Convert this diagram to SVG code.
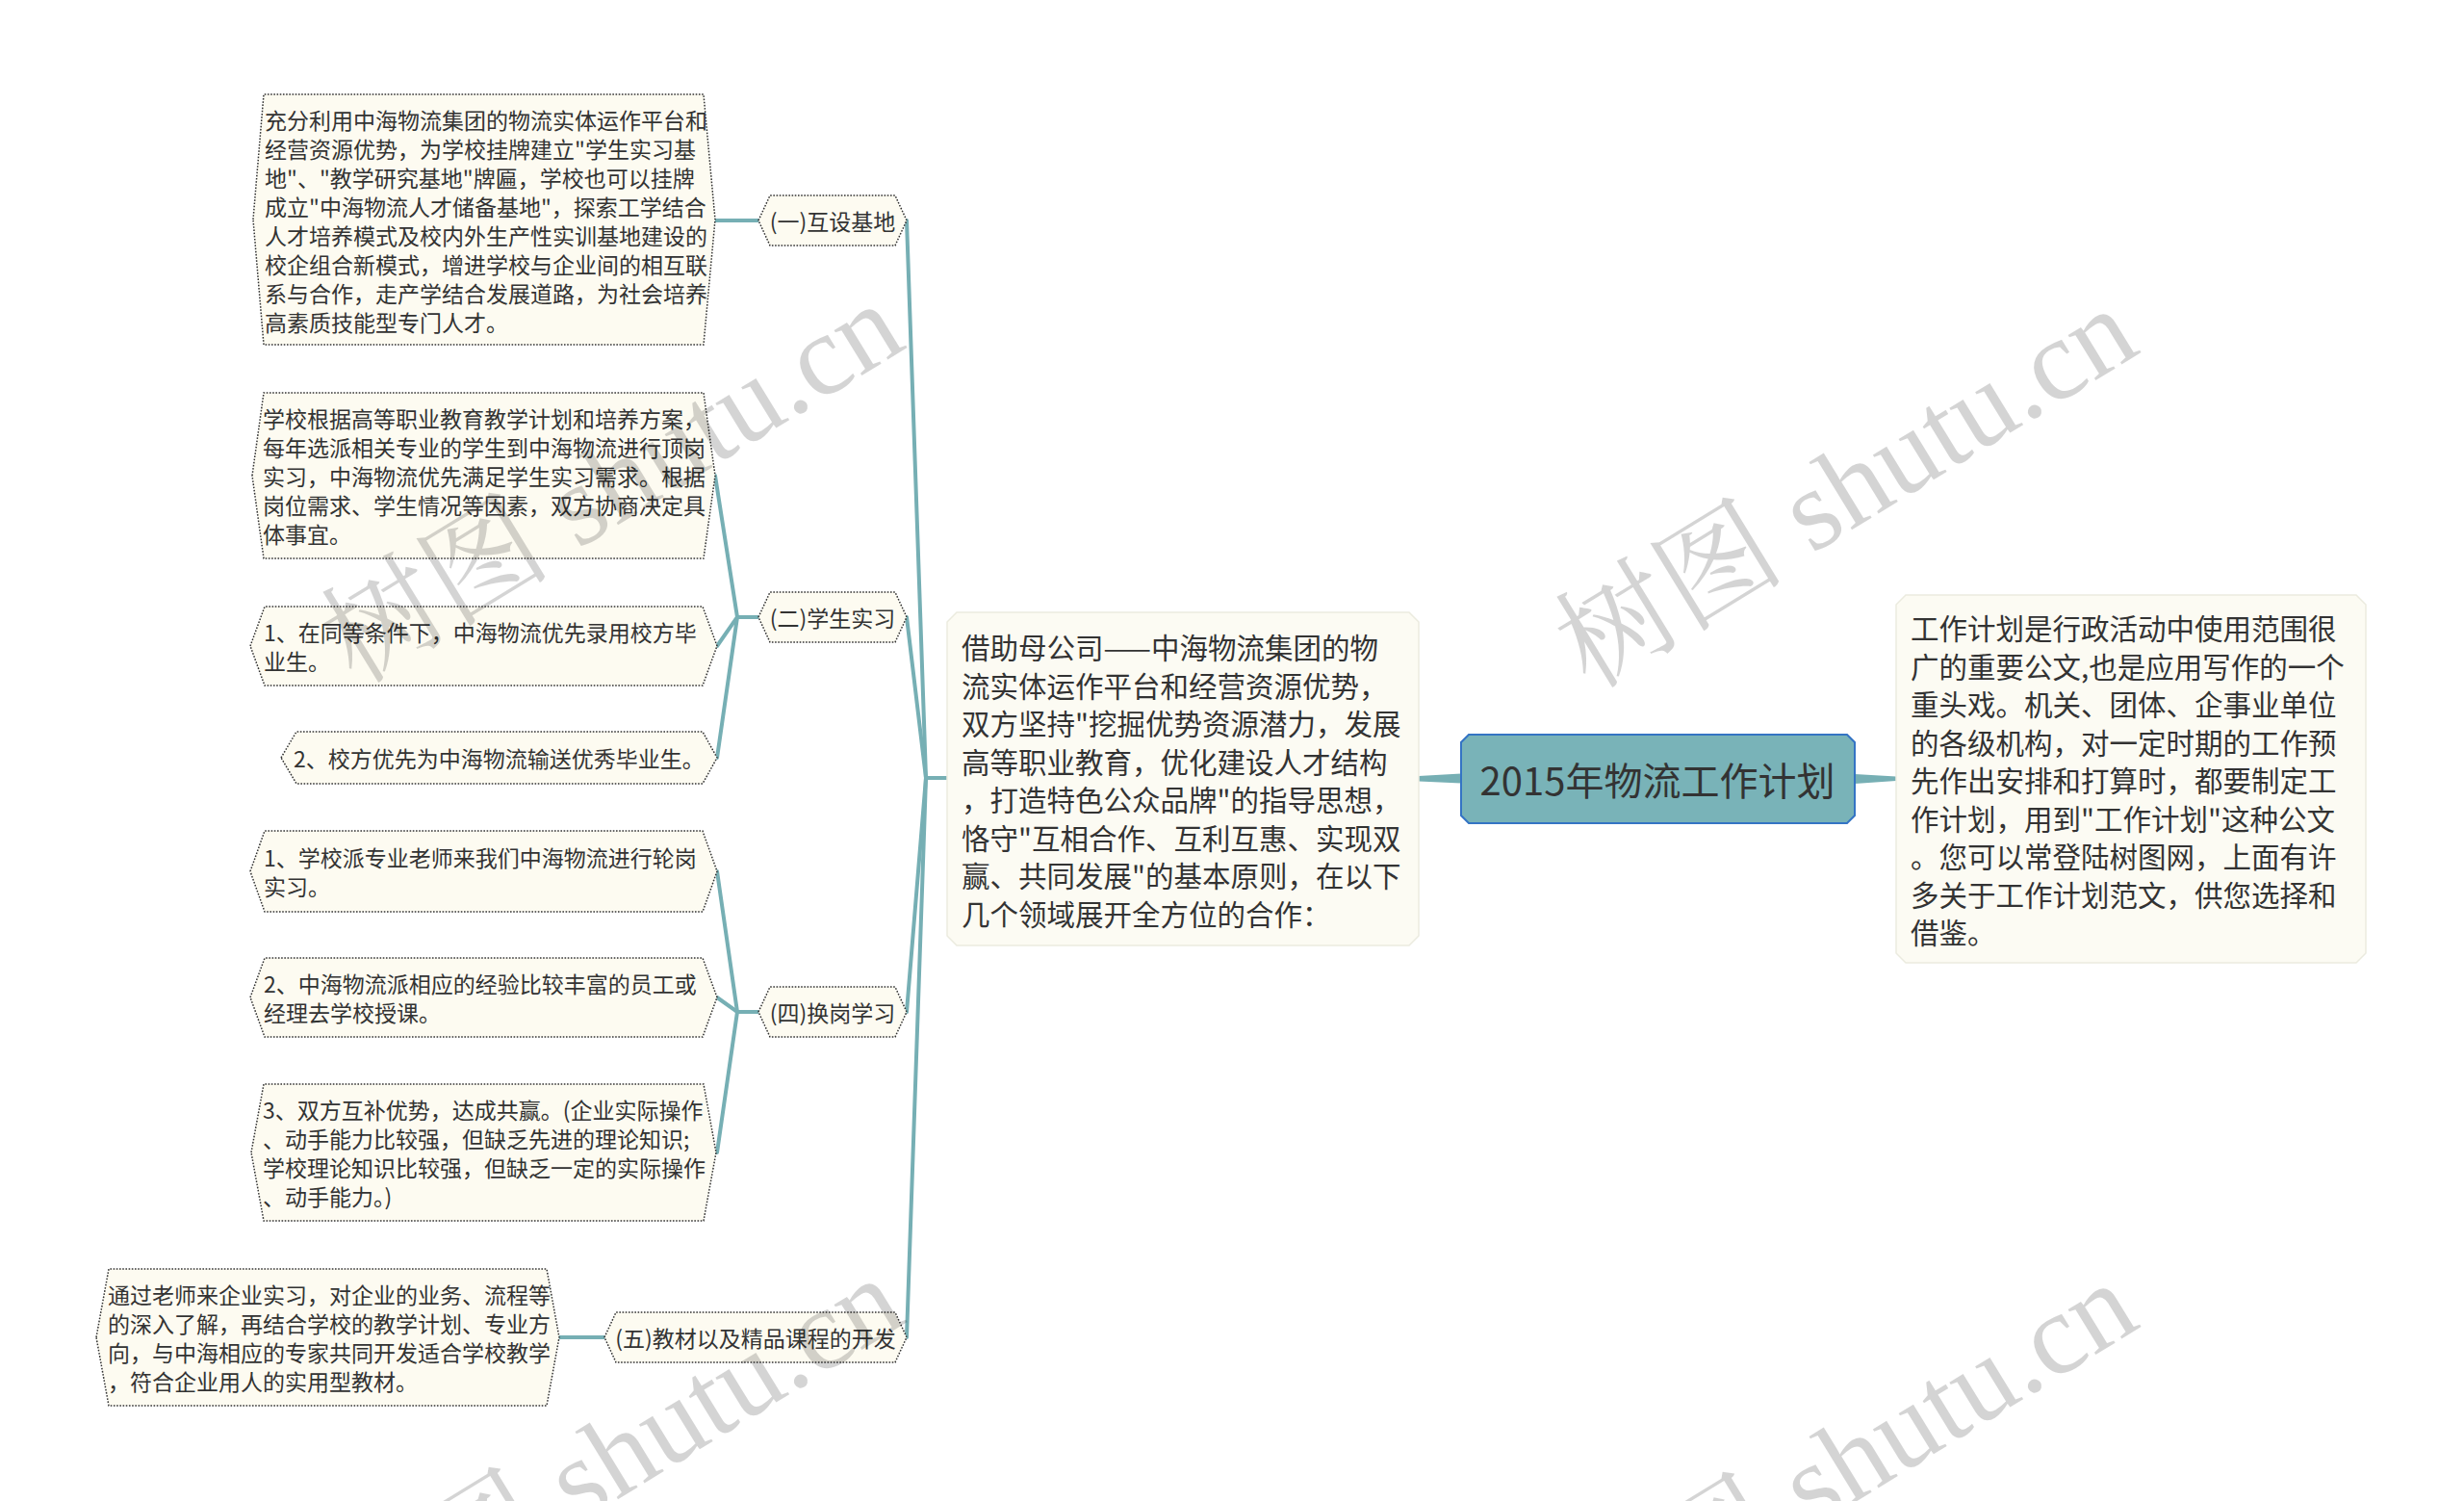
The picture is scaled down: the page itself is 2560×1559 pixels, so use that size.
<svg xmlns="http://www.w3.org/2000/svg" width="2560" height="1559" viewBox="0 0 2560 1559">
<style>
.bg{fill:#ffffff}
.hex{fill:#fdfbf1;stroke:#333;stroke-width:1.5;stroke-dasharray:1.6 1.6}
.box{fill:#fcfbf3;stroke:#ebebdf;stroke-width:1.5}
.root{fill:#79b3b8;stroke:#3474c4;stroke-width:2}
.t{font-family:"Noto Sans CJK SC","Noto Sans",sans-serif;fill:#333;dominant-baseline:central}
.s{font-size:23px}
.m{font-size:29.5px}
.c{text-anchor:middle}
.conn line,.conn polyline{stroke:#76afb4;stroke-width:4;fill:none;stroke-linecap:round}
.taper{fill:#76afb4}
.wm{font-family:"Liberation Serif","Noto Serif CJK SC","Noto Sans CJK SC",serif;font-size:120px;fill:#000;fill-opacity:0.17}
</style>
<rect class="bg" x="0" y="0" width="2560" height="1559"/>

<g id="connectors" class="conn">
  <polygon class="taper" points="1474,806 1518,803.5 1518,813.5 1474,811.5"/>
  <polygon class="taper" points="1927,804 1970,806.5 1970,811 1927,814"/>
  <line x1="984" y1="808" x2="962" y2="808"/>
  <line x1="962" y1="808" x2="942" y2="229"/>
  <line x1="962" y1="808" x2="942" y2="641"/>
  <line x1="962" y1="808" x2="942" y2="1051"/>
  <line x1="962" y1="808" x2="942" y2="1389"/>
  <line x1="788" y1="229" x2="743" y2="229"/>
  <line x1="788" y1="641" x2="766" y2="641"/>
  <line x1="766" y1="641" x2="743" y2="494"/>
  <line x1="766" y1="641" x2="745" y2="671"/>
  <line x1="766" y1="641" x2="745" y2="787"/>
  <line x1="788" y1="1051" x2="766" y2="1051"/>
  <line x1="766" y1="1051" x2="745" y2="905"/>
  <line x1="766" y1="1051" x2="745" y2="1036"/>
  <line x1="766" y1="1051" x2="745" y2="1197"/>
  <line x1="628" y1="1389" x2="581" y2="1389"/>
</g>

<g id="root">
  <polygon class="root" points="1526,763 1919,763 1927,771 1927,847 1919,855 1526,855 1518,847 1518,771"/>
  <text class="t c" x="1722" y="809" style="font-size:40px">2015年物流工作计划</text>
</g>

<g id="intro">
  <polygon class="box" points="994,636 1464,636 1474,646 1474,972 1464,982 994,982 984,972 984,646"/>
  <text class="t m" x="999">
    <tspan x="999" y="671">借助母公司——中海物流集团的物</tspan>
    <tspan x="999" y="710.5">流实体运作平台和经营资源优势，</tspan>
    <tspan x="999" y="750">双方坚持"挖掘优势资源潜力，发展</tspan>
    <tspan x="999" y="789.5">高等职业教育，优化建设人才结构</tspan>
    <tspan x="999" y="829">，打造特色公众品牌"的指导思想，</tspan>
    <tspan x="999" y="868.5">恪守"互相合作、互利互惠、实现双</tspan>
    <tspan x="999" y="908">赢、共同发展"的基本原则，在以下</tspan>
    <tspan x="999" y="947.5">几个领域展开全方位的合作：</tspan>
  </text>
</g>

<g id="summary">
  <polygon class="box" points="1980,618 2448,618 2458,628 2458,990 2448,1000 1980,1000 1970,990 1970,628"/>
  <text class="t m">
    <tspan x="1985" y="651">工作计划是行政活动中使用范围很</tspan>
    <tspan x="1985" y="690.5">广的重要公文,也是应用写作的一个</tspan>
    <tspan x="1985" y="730">重头戏。机关、团体、企事业单位</tspan>
    <tspan x="1985" y="769.5">的各级机构，对一定时期的工作预</tspan>
    <tspan x="1985" y="809">先作出安排和打算时，都要制定工</tspan>
    <tspan x="1985" y="848.5">作计划，用到"工作计划"这种公文</tspan>
    <tspan x="1985" y="888">。您可以常登陆树图网，上面有许</tspan>
    <tspan x="1985" y="927.5">多关于工作计划范文，供您选择和</tspan>
    <tspan x="1985" y="967">借鉴。</tspan>
  </text>
</g>

<g id="cat1">
  <polygon class="hex" points="788,229 800,203 930,203 942,229 930,255 800,255"/>
  <text class="t s c" x="865" y="229">(一)互设基地</text>
</g>
<g id="cat2">
  <polygon class="hex" points="788,641 800,615 930,615 942,641 930,667 800,667"/>
  <text class="t s c" x="865" y="641">(二)学生实习</text>
</g>
<g id="cat4">
  <polygon class="hex" points="788,1051 800,1025 930,1025 942,1051 930,1077 800,1077"/>
  <text class="t s c" x="865" y="1051">(四)换岗学习</text>
</g>
<g id="cat5">
  <polygon class="hex" points="628,1389 640,1363 930,1363 942,1389 930,1415 640,1415"/>
  <text class="t s c" x="785" y="1389">(五)教材以及精品课程的开发</text>
</g>

<g id="leaf1">
  <polygon class="hex" points="263,228 274,98 731,98 743,228 731,358 274,358"/>
  <text class="t s">
    <tspan x="275" y="124">充分利用中海物流集团的物流实体运作平台和</tspan>
    <tspan x="275" y="154">经营资源优势，为学校挂牌建立"学生实习基</tspan>
    <tspan x="275" y="184">地"、"教学研究基地"牌匾，学校也可以挂牌</tspan>
    <tspan x="275" y="214">成立"中海物流人才储备基地"，探索工学结合</tspan>
    <tspan x="275" y="244">人才培养模式及校内外生产性实训基地建设的</tspan>
    <tspan x="275" y="274">校企组合新模式，增进学校与企业间的相互联</tspan>
    <tspan x="275" y="304">系与合作，走产学结合发展道路，为社会培养</tspan>
    <tspan x="275" y="334">高素质技能型专门人才。</tspan>
  </text>
</g>

<g id="leaf2a">
  <polygon class="hex" points="262,494 274,408 731,408 743,494 731,580 274,580"/>
  <text class="t s">
    <tspan x="273" y="434">学校根据高等职业教育教学计划和培养方案，</tspan>
    <tspan x="273" y="464">每年选派相关专业的学生到中海物流进行顶岗</tspan>
    <tspan x="273" y="494">实习，中海物流优先满足学生实习需求。根据</tspan>
    <tspan x="273" y="524">岗位需求、学生情况等因素，双方协商决定具</tspan>
    <tspan x="273" y="554">体事宜。</tspan>
  </text>
</g>

<g id="leaf2b">
  <polygon class="hex" points="260,671 275,630 730,630 745,671 730,712 275,712"/>
  <text class="t s">
    <tspan x="274" y="656">1、在同等条件下，中海物流优先录用校方毕</tspan>
    <tspan x="274" y="686">业生。</tspan>
  </text>
</g>

<g id="leaf2c">
  <polygon class="hex" points="292,787 308,760 730,760 745,787 730,814 308,814"/>
  <text class="t s" x="305" y="787">2、校方优先为中海物流输送优秀毕业生。</text>
</g>

<g id="leaf3a">
  <polygon class="hex" points="260,905 275,863 730,863 745,905 730,947 275,947"/>
  <text class="t s">
    <tspan x="274" y="890">1、学校派专业老师来我们中海物流进行轮岗</tspan>
    <tspan x="274" y="920">实习。</tspan>
  </text>
</g>

<g id="leaf3b">
  <polygon class="hex" points="260,1036 275,995 730,995 745,1036 730,1077 275,1077"/>
  <text class="t s">
    <tspan x="274" y="1021">2、中海物流派相应的经验比较丰富的员工或</tspan>
    <tspan x="274" y="1051">经理去学校授课。</tspan>
  </text>
</g>

<g id="leaf3c">
  <polygon class="hex" points="261,1197 274,1126 731,1126 744,1197 731,1268 274,1268"/>
  <text class="t s">
    <tspan x="273" y="1152">3、双方互补优势，达成共赢。(企业实际操作</tspan>
    <tspan x="273" y="1182">、动手能力比较强，但缺乏先进的理论知识;</tspan>
    <tspan x="273" y="1212">学校理论知识比较强，但缺乏一定的实际操作</tspan>
    <tspan x="273" y="1242">、动手能力。)</tspan>
  </text>
</g>

<g id="leaf5">
  <polygon class="hex" points="100,1389 113,1318 568,1318 581,1389 568,1460 113,1460"/>
  <text class="t s">
    <tspan x="112" y="1344">通过老师来企业实习，对企业的业务、流程等</tspan>
    <tspan x="112" y="1374">的深入了解，再结合学校的教学计划、专业方</tspan>
    <tspan x="112" y="1404">向，与中海相应的专家共同开发适合学校教学</tspan>
    <tspan x="112" y="1434">，符合企业用人的实用型教材。</tspan>
  </text>
</g>

<g id="watermarks">
  <text class="wm" transform="translate(370,712) rotate(-31.5)">树图 shutu.cn</text>
  <text class="wm" transform="translate(1652,717) rotate(-31.5)">树图 shutu.cn</text>
  <text class="wm" transform="translate(370,1724) rotate(-31.5)">树图 shutu.cn</text>
  <text class="wm" transform="translate(1652,1729) rotate(-31.5)">树图 shutu.cn</text>
</g>
</svg>
